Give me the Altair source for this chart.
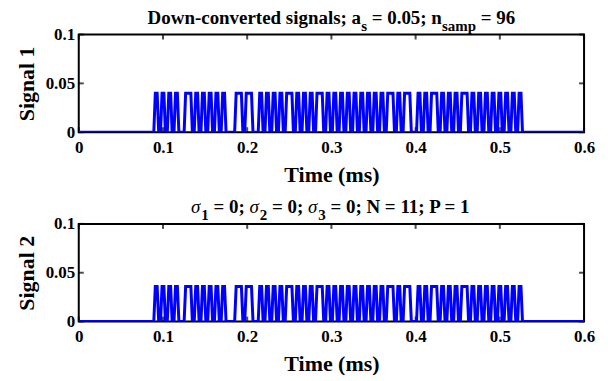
import altair as alt
import pandas as pd

# ---- data ----
bits_str = ("10101010" "0110" "1010101010" "00" "11" "0" "11" "00" "10101010" "11"
            "0101010" "11" "010" "1010101010101010" "11" "010" "11" "001010" "11"
            "0101010" "11" "0" "1010101010101010")
bits = [int(c) for c in bits_str]
slot_ms = 0.004        # duration of one slot (ms)
start_ms = 0.09        # first pulse (ms)
ramp_ms = 0.0009       # half transition time
amp_1 = 0.040
amp_2 = 0.036
x_domain = [0, 0.6]
y_domain = [0, 0.1]
x_ticks = [0, 0.1, 0.2, 0.3, 0.4, 0.5, 0.6]
y_ticks = [0, 0.05, 0.1]

title1 = [("Down-converted signals; a", "main"), ("s", "sub"), (" = 0.05; n", "main"),
          ("samp", "sub"), (" = 96", "main")]
title2 = [("σ", "greek"), ("1", "sub"), (" = 0; ", "main"), ("σ", "greek"), ("2", "sub"),
          (" = 0; ", "main"), ("σ", "greek"), ("3", "sub"), (" = 0; N = 11; P = 1", "main")]


def waveform(amp):
    t = [x_domain[0], start_ms - ramp_ms]
    v = [0.0, 0.0]
    for k, b in enumerate(bits):
        t0 = start_ms + k * slot_ms
        t += [t0 + ramp_ms, t0 + slot_ms - ramp_ms]
        v += [b * amp, b * amp]
    t += [start_ms + len(bits) * slot_ms + ramp_ms, x_domain[1]]
    v += [0.0, 0.0]
    return pd.DataFrame({"t": t, "v": v})


# ---- styling ----
W, H = 507, 98
FONT = "Liberation Serif"
INK = "#000000"
F_MAIN, F_SUB = 19, 15
TICK = 5
BASE_MAIN, BASE_SUB = -11, -4

# Times-Bold advance widths (1/1000 em)
ADV = {' ': 250, '-': 333, '.': 250, ';': 333, '=': 570, '0': 500, '1': 500, '2': 500,
       '3': 500, '5': 500, '6': 500, '9': 500, 'D': 722, 'N': 722, 'P': 611, 'a': 500,
       'c': 444, 'd': 556, 'e': 444, 'g': 500, 'i': 278, 'l': 278, 'm': 833, 'n': 556,
       'o': 500, 'p': 556, 'r': 444, 's': 389, 't': 333, 'v': 500, 'w': 722, 'σ': 540}


def text_width(text, kind):
    size = F_SUB if kind == "sub" else F_MAIN
    return sum(ADV.get(c, 500) for c in text) * size / 1000.0


def title_layers(pieces):
    total = sum(text_width(s, k) for s, k in pieces)
    x = W / 2 - total / 2
    layers = []
    for s, k in pieces:
        lead = len(s) - len(s.lstrip(" "))
        shown = s.strip(" ")
        x_draw = x + text_width(" " * lead, k)
        if k == "sub":
            props = dict(fontSize=F_SUB, fontWeight="bold")
            y = BASE_SUB
        elif k == "greek":
            props = dict(fontSize=F_MAIN, fontStyle="italic", fontWeight="normal")
            y = BASE_MAIN
        else:
            props = dict(fontSize=F_MAIN, fontWeight="bold")
            y = BASE_MAIN
        mk = alt.Chart(pd.DataFrame({"s": [shown]})).mark_text(
            font=FONT, align="left", baseline="alphabetic", color=INK, **props)
        layers.append(mk.encode(text="s:N", x=alt.value(x_draw), y=alt.value(y)))
        x += text_width(s, k)
    return layers


def panel(amp, ylabel, pieces):
    df = waveform(amp)
    xs = alt.Scale(domain=x_domain, nice=False, zero=False)
    ys = alt.Scale(domain=y_domain, nice=False)
    xaxis = alt.Axis(values=x_ticks, format="~g", title="Time (ms)",
                     tickSize=0, domain=False, grid=False, labelPadding=7, titlePadding=9,
                     labelFont=FONT, labelFontSize=17, labelFontWeight="bold",
                     labelColor=INK, titleFont=FONT, titleFontSize=22,
                     titleFontWeight="bold", titleColor=INK, labelFlush=False)
    yaxis = alt.Axis(values=y_ticks, format="~g", title=ylabel,
                     tickSize=0, domain=False, grid=False, labelPadding=4, titlePadding=7,
                     labelFont=FONT, labelFontSize=17, labelFontWeight="bold",
                     labelColor=INK, titleFont=FONT, titleFontSize=22,
                     titleFontWeight="bold", titleColor=INK, labelFlush=False)

    box = pd.DataFrame({"x0": [x_domain[0]], "x1": [x_domain[1]],
                        "y0": [y_domain[0]], "y1": [y_domain[1]]})
    frame = alt.Chart(box).mark_rect(fillOpacity=0, stroke=INK, strokeWidth=2).encode(
        x=alt.X("x0:Q", scale=xs, axis=xaxis), x2="x1:Q",
        y=alt.Y("y0:Q", scale=ys, axis=yaxis), y2="y1:Q")

    line = alt.Chart(df).mark_line(color="#0000ff", strokeWidth=3, clip=True).encode(
        x=alt.X("t:Q", scale=xs, axis=xaxis),
        y=alt.Y("v:Q", scale=ys, axis=yaxis),
    )
    xt = pd.DataFrame({"t": x_ticks})
    yt = pd.DataFrame({"v": y_ticks})
    tk = dict(color=INK, thickness=2, size=TICK)
    tick_b = alt.Chart(xt).mark_tick(orient="vertical", yOffset=-TICK / 2, **tk).encode(
        x=alt.X("t:Q", scale=xs, axis=xaxis), y=alt.value(H))
    tick_t = alt.Chart(xt).mark_tick(orient="vertical", yOffset=TICK / 2, **tk).encode(
        x=alt.X("t:Q", scale=xs, axis=xaxis), y=alt.value(0))
    tick_l = alt.Chart(yt).mark_tick(orient="horizontal", xOffset=TICK / 2, **tk).encode(
        y=alt.Y("v:Q", scale=ys, axis=yaxis), x=alt.value(0))
    tick_r = alt.Chart(yt).mark_tick(orient="horizontal", xOffset=-TICK / 2, **tk).encode(
        y=alt.Y("v:Q", scale=ys, axis=yaxis), x=alt.value(W))

    return alt.layer(frame, tick_b, tick_t, tick_l, tick_r, line,
                     *title_layers(pieces)).properties(width=W, height=H)


chart = alt.vconcat(
    panel(amp_1, "Signal 1", title1),
    panel(amp_2, "Signal 2", title2),
    spacing=13,
).properties(
    padding={"left": 7, "top": 0, "right": 5, "bottom": 0},
    background="white",
).configure_view(strokeWidth=0)

chart.save("out.html", embed_options={"renderer": "svg", "actions": False})
